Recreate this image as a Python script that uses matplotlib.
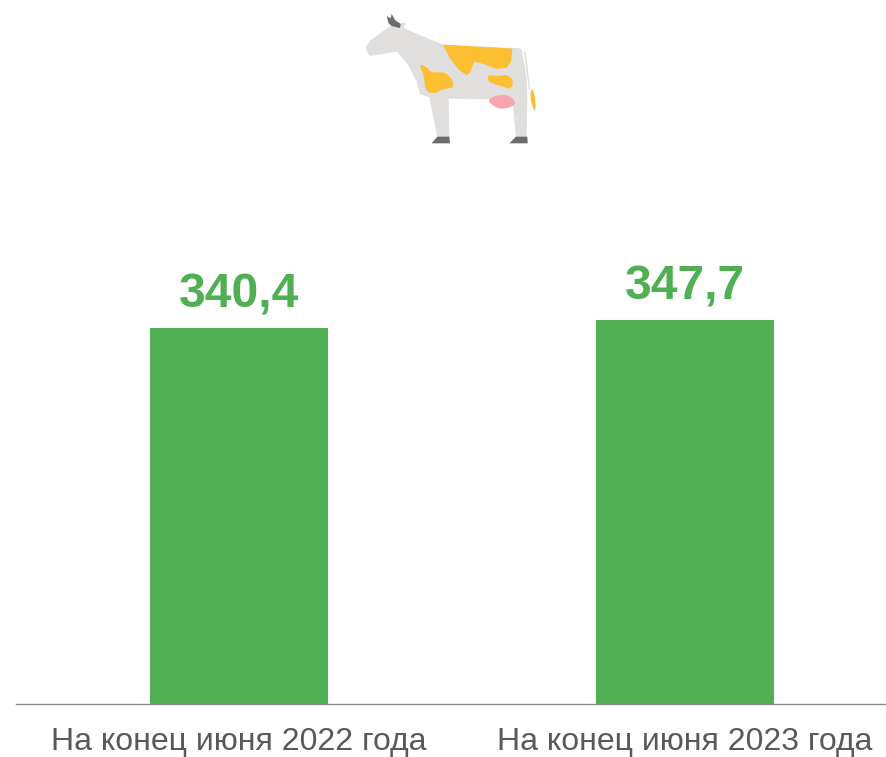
import matplotlib
matplotlib.use("Agg")
import matplotlib.pyplot as plt
from matplotlib.patches import PathPatch
from matplotlib.path import Path
import numpy as np

categories = ["На конец июня 2022 года", "На конец июня 2023 года"]
values = [340.4, 347.7]
value_labels = ["340,4", "347,7"]

W, H = 886, 757
GREEN = "#50AE53"
GRAY = "#595959"
plt.rcParams['font.family'] = ['Liberation Sans', 'DejaVu Sans']

fig = plt.figure(figsize=(W / 100, H / 100), dpi=100, facecolor="white")
# axes spans 16..908 px horizontally (right side runs past the canvas edge)
ax = fig.add_axes([16 / W, (H - 703.5) / H, 892 / W, 703.5 / H], clip_on=False)
ax.set_xlim(-0.5, 1.5)
ax.set_ylim(0, 703.5 / 1.103)
ax.patch.set_alpha(0)
ax.bar(range(2), values, width=0.4, color=GREEN, linewidth=0, zorder=2)
for s in ("top", "left", "right"):
    ax.spines[s].set_visible(False)
ax.spines["bottom"].set_color("#8C8C8C")
ax.spines["bottom"].set_linewidth(1.0)
ax.yaxis.set_visible(False)
ax.set_xticks(range(2))
ax.set_xticklabels(categories, fontsize=23, color=GRAY)
ax.tick_params(axis="x", length=0, pad=17)
for i, (v, t) in enumerate(zip(values, value_labels)):
    ax.annotate(t, (i, v), xytext=(0, 7.5), textcoords="offset points", ha="center", va="bottom",
                fontsize=34.6, fontweight="bold", color=GREEN)

# Decorative cow, in pixel space of the zoomed reference crop
cow = fig.add_axes([0, 0, 1, 1], zorder=5)
cow.set_xlim(0, W)
cow.set_ylim(H, 0)
cow.axis("off")

def blob(pts, color, z=1, grow=1.18):
    pts = np.array(pts, float)
    c = pts.mean(axis=0)
    pts = (c + (pts - c) * grow) / 3 + np.array([350, 0])
    mids = (pts + np.roll(pts, -1, axis=0)) / 2
    verts = [mids[-1]]
    codes = [Path.MOVETO]
    for p, m in zip(pts, mids):
        verts += [p, m]
        codes += [Path.CURVE3, Path.CURVE3]
    cow.add_patch(PathPatch(Path(verts, codes), fc=color, ec="none", zorder=z))

def poly(pts, color, z=1):
    pts = np.array(pts, float) / 3 + np.array([350, 0])
    cow.add_patch(plt.Polygon(pts, closed=True, fc=color, ec="none", zorder=z))

BODY = "#E0DFDE"
YEL = "#FDBF32"
DARK = "#6B6B6B"
PINK = "#F6A6AC"
poly([(48, 140), (60, 122), (115, 82), (130, 72), (168, 68), (160, 82), (185, 95), (280, 134),
      (510, 145), (527, 155), (532, 290), (530, 412), (498, 412), (488, 310), (420, 298), (296, 296),
      (298, 412), (262, 412), (238, 292), (210, 282), (200, 245), (175, 195), (140, 155), (60, 168), (50, 155)], BODY, 1)
poly([(278, 134), (487, 146), (483, 185), (470, 203), (440, 207), (395, 190), (372, 185), (362, 215),
      (350, 226), (325, 208), (300, 175)], YEL, 2)
blob([(212, 198), (232, 205), (245, 222), (285, 218), (308, 258), (275, 262), (250, 276), (228, 265), (228, 230)], YEL, 2)
blob([(420, 226), (445, 232), (465, 225), (485, 240), (478, 266), (455, 255), (430, 250), (418, 240)], YEL, 2)
blob([(417, 300), (450, 286), (478, 290), (495, 312), (460, 325), (435, 318)], PINK, 2)
poly([(515, 150), (528, 152), (545, 270), (538, 270)], "white", 3)
poly([(522, 155), (527, 155), (541, 270), (537, 270)], BODY, 4)
blob([(547, 265), (556, 300), (555, 332), (547, 315), (541, 290)], YEL, 4)
poly([(110, 48), (122, 55), (125, 42), (135, 60), (152, 72), (150, 84), (125, 78), (116, 70)], DARK, 3)
poly([(262, 410), (298, 410), (300, 430), (245, 430)], DARK, 3)
poly([(498, 410), (532, 410), (533, 430), (478, 430)], DARK, 3)

fig.savefig("out.png", dpi=100, facecolor="white")
